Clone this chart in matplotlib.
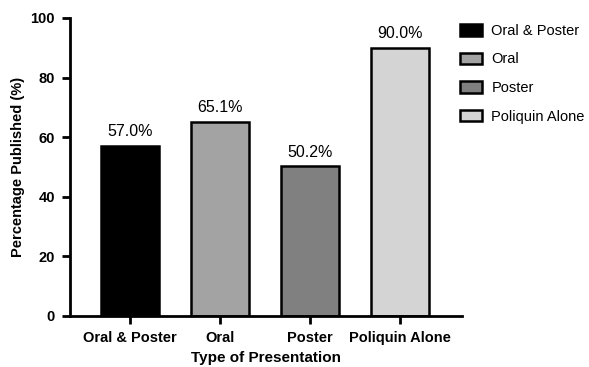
import numpy as np
import matplotlib.pyplot as plt
from matplotlib.patches import Patch

plt.rcParams['font.family'] = ['Liberation Sans', 'DejaVu Sans']

categories = ['Oral & Poster', 'Oral', 'Poster', 'Poliquin Alone']
values = [57.0, 65.1, 50.2, 90.0]
colors = ['#000000', '#a3a3a3', '#808080', '#d4d4d4']

fig = plt.figure(figsize=(5.89, 3.67), dpi=100)
ax = fig.add_axes([0.119, 0.139, 0.665, 0.812])

x = np.arange(len(categories))
bars = ax.bar(x, values, width=0.64, color=colors, edgecolor='black', linewidth=1.8)
for b, v in zip(bars, values):
    ax.text(b.get_x() + b.get_width() / 2, v + 2.3, f'{v:.1f}%', ha='center', va='bottom', fontsize=11.5)

ax.set_xlim(-0.667, 3.69)
ax.set_ylim(0, 100)
ax.set_yticks([0, 20, 40, 60, 80, 100])
ax.set_xticks(x)
ax.set_xticklabels(categories, fontweight='bold', fontsize=10.5)
for lab in ax.get_yticklabels():
    lab.set_fontweight('bold')
    lab.set_fontsize(10.5)
ax.set_ylabel('Percentage Published (%)', fontweight='bold', fontsize=10.5)
ax.set_xlabel('Type of Presentation', fontweight='bold', fontsize=11, labelpad=4)

for s in ['top', 'right']:
    ax.spines[s].set_visible(False)
for s in ['left', 'bottom']:
    ax.spines[s].set_linewidth(2)
ax.tick_params(width=2, length=6, pad=5)

handles = [Patch(facecolor=c, edgecolor='black', linewidth=1.8) for c in colors]
fig.legend(handles, categories, loc='upper left', bbox_to_anchor=(0.781, 0.935), frameon=False,
           fontsize=10.5, handlelength=1.5, handleheight=0.85, handletextpad=0.65,
           labelspacing=1.0, borderpad=0, borderaxespad=0)

fig.savefig('out.png', dpi=100)
